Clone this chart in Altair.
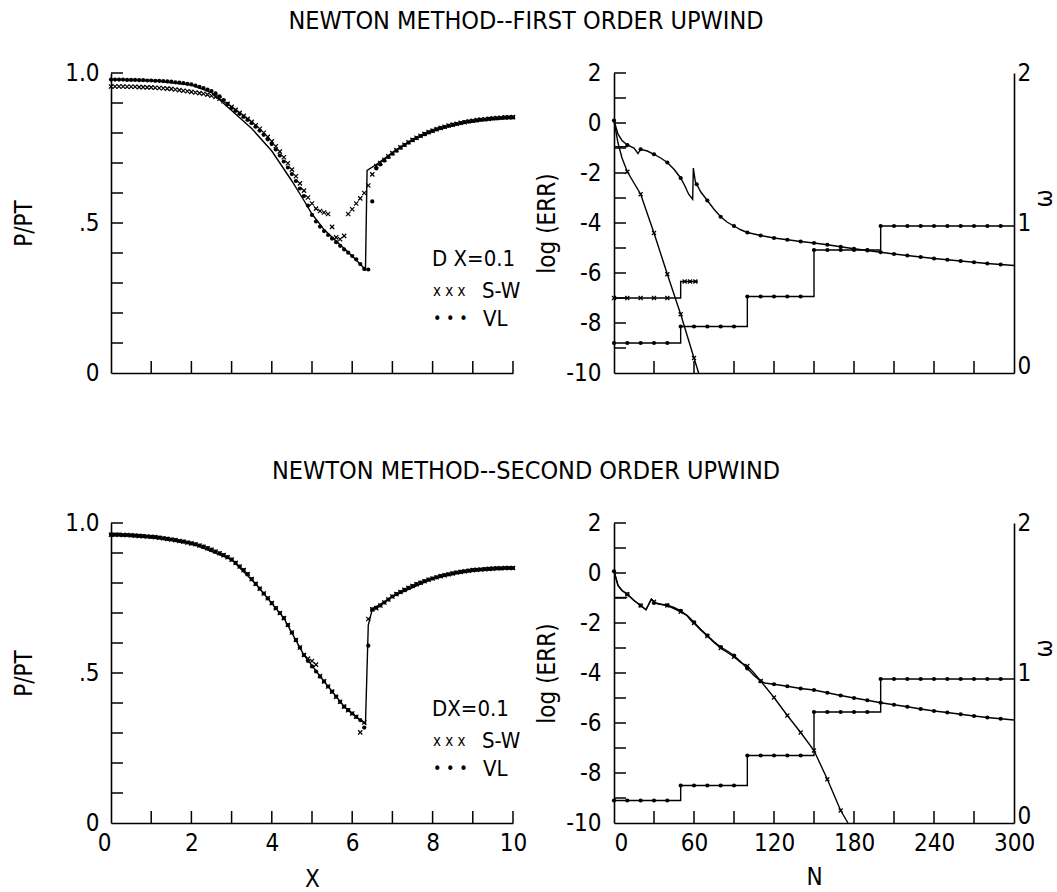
import altair as alt
import pandas as pd

FONT = "Liberation Sans Narrow, DejaVu Sans Condensed, Arial Narrow, sans-serif"
XSHAPE = "M-1,-1L1,1M1,-1L-1,1"

# ---------------- left panels : P/PT versus X (DX = 0.1) ----------------
X_GRID = [round(i * 0.1, 1) for i in range(101)]

TL_VL = [.978, .978, .978, .978, .977, .977, .977, .976, .976, .975, .975,
         .974, .974, .973, .972, .971, .969, .968, .966, .964, .962,
         .958, .954, .950, .945, .940, .932, .922, .910, .897, .884,
         .874, .864, .854, .844, .833, .821, .808, .794, .779, .763,
         .745, .725, .705, .685, .663, .640, .615, .590, .558, .527,
         .505, .488, .473, .460, .448, .436, .424, .412, .401, .390,
         .379, .363, .347, .345, .572, .682, .695, .708, .720, .731,
         .741, .751, .760, .768, .776, .783, .790, .796, .802, .807,
         .812, .816, .820, .824, .827, .830, .833, .836, .838, .840,
         .842, .844, .845, .847, .848, .849, .850, .851, .852, .852]
TL_SW = [.955, .955, .955, .955, .954, .954, .954, .953, .953, .952, .952,
         .951, .950, .949, .948, .947, .945, .943, .941, .939, .937,
         .935, .933, .931, .928, .924, .920, .914, .906, .897, .887,
         .877, .867, .857, .847, .837, .826, .814, .801, .787, .772,
         .756, .738, .719, .699, .678, .656, .632, .608, .585, .565,
         .548, .540, .535, .530, .487, .452, .446, .457, .530, .546,
         .565, .582, .600, .625, .662, .690, .700, .711, .722, .733,
         .743, .752, .761, .769, .777, .784, .791, .797, .803, .808,
         .813, .817, .821, .825, .828, .831, .834, .836, .839, .841,
         .843, .845, .846, .847, .849, .850, .851, .852, .852, .853]
TL_EX_X = [0, 1.0, 2.0, 2.5, 3.0, 3.5, 4.0, 4.5, 4.8, 5.0, 5.3, 5.6, 6.0, 6.33, 6.37,
           6.6, 7.0, 7.5, 8.0, 8.5, 9.0, 9.5, 10.0]
TL_EX_Y = [.978, .975, .960, .935, .875, .815, .740, .640, .575, .530, .478, .440, .390,
           .345, .675, .695, .735, .776, .806, .826, .840, .848, .852]

BL_VL = [.961, .961, .961, .960, .960, .959, .958, .957, .956, .955, .954,
         .953, .951, .949, .947, .945, .943, .940, .938, .935, .932,
         .929, .925, .921, .916, .911, .905, .899, .893, .886, .878,
         .867, .855, .843, .830, .813, .797, .781, .765, .749, .733,
         .716, .700, .683, .660, .635, .610, .585, .560, .540, .522,
         .505, .488, .472, .455, .438, .421, .404, .388, .376, .365,
         .354, .343, .318, .591, .712, .718, .725, .735, .745, .755,
         .763, .770, .777, .784, .790, .796, .801, .806, .811, .815,
         .819, .823, .826, .829, .832, .835, .837, .839, .841, .843,
         .844, .845, .846, .847, .848, .849, .849, .850, .850, .850]
BL_SW = [.961, .961, .961, .960, .960, .959, .958, .957, .956, .955, .954,
         .953, .951, .949, .947, .945, .943, .940, .938, .935, .932,
         .929, .925, .921, .916, .911, .905, .899, .893, .886, .878,
         .867, .855, .843, .830, .813, .797, .781, .765, .749, .733,
         .716, .700, .683, .660, .635, .610, .585, .560, .548, .540,
         .528, .490, .472, .455, .438, .421, .404, .388, .376, .365,
         .354, .302, .335, .680, .712, .716, .725, .735, .745, .755,
         .763, .770, .777, .784, .790, .796, .801, .806, .811, .815,
         .819, .823, .826, .829, .832, .835, .837, .839, .841, .843,
         .844, .845, .846, .847, .848, .849, .849, .850, .850, .850]
BL_EX_X = [0, 1, 2, 3, 3.6, 4.3, 4.8, 5.3, 5.8, 6.2, 6.33, 6.4, 6.5, 7, 8, 9, 10]
BL_EX_Y = [.961, .954, .932, .878, .797, .683, .560, .472, .388, .343, .330, .660, .712,
           .755, .815, .843, .850]

X_LABELS = [0, 2, 4, 6, 8, 10]
X_TICKS = [1, 2, 3, 4, 5, 6, 7, 8, 9, 10]
P_LABELS = [0, 0.5, 1.0]
P_TICKS = [0.1, 0.2, 0.3, 0.4, 0.5, 0.6, 0.7, 0.8, 0.9, 1.0]

# ---------------- right panels : log(ERR) and omega versus N ----------------
N_LABELS = [0, 60, 120, 180, 240, 300]
N_TICKS = [30, 60, 90, 120, 150, 180, 210, 240, 270]
E_LABELS = [-10, -8, -6, -4, -2, 0, 2]
E_TICKS = [-9, -8, -7, -6, -5, -4, -3, -2, -1, 0, 1, 2]
W_LABELS = [0, 1, 2]

TR_VL_N = [0, 3, 6, 10, 15, 18, 20, 25, 30, 35, 40, 45, 50, 53, 56, 59, 59.5, 61, 62, 65,
           70, 75, 80, 85, 90, 95, 100, 110, 120, 130, 140, 150, 160, 170, 180, 190, 200,
           210, 220, 230, 240, 250, 260, 270, 280, 290, 300]
TR_VL_E = [0.1, -0.45, -0.7, -0.88, -1.0, -1.22, -1.05, -1.12, -1.25, -1.4, -1.58, -1.85,
           -2.2, -2.5, -2.85, -3.05, -1.8, -2.35, -2.45, -2.75, -3.1, -3.45, -3.75, -3.97,
           -4.12, -4.27, -4.38, -4.5, -4.6, -4.67, -4.74, -4.8, -4.87, -4.95, -5.03, -5.1,
           -5.17, -5.24, -5.3, -5.36, -5.42, -5.47, -5.52, -5.57, -5.62, -5.66, -5.7]
TR_VL_DOT_N = [0, 10, 20, 30, 40, 50, 62, 70, 80, 90, 100, 110, 120, 130, 140, 150, 160,
               170, 180, 190, 200, 210, 220, 230, 240, 250, 260, 270, 280, 290]
TR_VL_DOT_E = [0.1, -0.88, -1.05, -1.25, -1.58, -2.2, -2.45, -3.1, -3.75, -4.12, -4.38,
               -4.5, -4.6, -4.67, -4.74, -4.8, -4.87, -4.95, -5.03, -5.1, -5.17, -5.24,
               -5.3, -5.36, -5.42, -5.47, -5.52, -5.57, -5.62, -5.66]
TR_SW_N = [0, 3, 6, 10, 20, 30, 40, 50, 60, 63.5]
TR_SW_E = [0.1, -0.8, -1.4, -1.95, -2.85, -4.4, -6.05, -7.65, -9.4, -10]
TR_SW_MK_N = [10, 20, 30, 40, 50, 60]
TR_SW_MK_E = [-1.95, -2.85, -4.4, -6.05, -7.65, -9.4]
TR_INIT_N = [0, 10]
TR_INIT_E = [-0.95, -0.95]
TR_W_SW_N = [0, 50, 63]
TR_W_SW = [0.5, 0.61, 0.61]
TR_W_SW_MK_N = [0, 10, 20, 30, 40, 53, 57, 61]
TR_W_SW_MK = [0.5, 0.5, 0.5, 0.5, 0.5, 0.61, 0.61, 0.61]
TR_W_VL_N = [0, 50, 100, 150, 200, 300]
TR_W_VL = [0.2, 0.31, 0.51, 0.82, 0.98, 0.98]
TR_W_VL_MK_N = [0, 10, 20, 30, 40, 50, 60, 70, 80, 90, 100, 110, 120, 130, 140, 150, 160,
                170, 180, 190, 200, 210, 220, 230, 240, 250, 260, 270, 280, 290]
TR_W_VL_MK = [0.2, 0.2, 0.2, 0.2, 0.2, 0.31, 0.31, 0.31, 0.31, 0.31, 0.51, 0.51, 0.51,
              0.51, 0.51, 0.82, 0.82, 0.82, 0.82, 0.82, 0.98, 0.98, 0.98, 0.98, 0.98,
              0.98, 0.98, 0.98, 0.98, 0.98]

BR_VL_N = [0, 3, 6, 10, 15, 20, 24, 28, 31, 35, 40, 45, 50, 55, 60, 65, 70, 75, 80, 85,
           90, 95, 100, 105, 110, 113, 120, 130, 140, 150, 160, 170, 180, 190, 200, 210,
           220, 230, 240, 250, 260, 270, 280, 290, 300]
BR_VL_E = [0.07, -0.5, -0.7, -0.85, -1.1, -1.3, -1.47, -1.05, -1.2, -1.25, -1.29, -1.38,
           -1.51, -1.7, -1.97, -2.25, -2.5, -2.75, -2.96, -3.12, -3.3, -3.55, -3.82, -4.1,
           -4.33, -4.4, -4.45, -4.53, -4.62, -4.68, -4.79, -4.9, -5.0, -5.09, -5.19, -5.27,
           -5.35, -5.44, -5.52, -5.58, -5.65, -5.72, -5.78, -5.83, -5.88]
BR_VL_DOT_N = [0, 10, 20, 30, 40, 50, 60, 70, 80, 90, 100, 110, 120, 130, 140, 150, 160,
               170, 180, 190, 200, 210, 220, 230, 240, 250, 260, 270, 280, 290]
BR_VL_DOT_E = [0.07, -0.85, -1.3, -1.2, -1.29, -1.51, -1.97, -2.5, -2.96, -3.3, -3.82,
               -4.33, -4.45, -4.53, -4.62, -4.68, -4.79, -4.9, -5.0, -5.09, -5.19, -5.27,
               -5.35, -5.44, -5.52, -5.58, -5.65, -5.72, -5.78, -5.83]
BR_SW_N = [0, 3, 6, 10, 15, 20, 24, 28, 31, 35, 40, 45, 50, 55, 58, 60, 65, 70, 75, 80,
           85, 90, 95, 100, 105, 110, 120, 130, 140, 150, 160, 170, 175.5]
BR_SW_E = [0.07, -0.5, -0.7, -0.85, -1.1, -1.3, -1.47, -1.05, -1.2, -1.25, -1.3, -1.42,
           -1.55, -1.72, -1.92, -2.0, -2.28, -2.52, -2.78, -3.0, -3.18, -3.35, -3.58,
           -3.72, -4.0, -4.32, -4.98, -5.7, -6.38, -7.1, -8.25, -9.5, -10]
BR_SW_MK_N = [10, 20, 30, 40, 50, 60, 70, 80, 90, 100, 110, 120, 130, 140, 150, 160, 170]
BR_SW_MK_E = [-0.85, -1.3, -1.15, -1.3, -1.55, -2.0, -2.52, -3.0, -3.35, -3.72, -4.32,
              -4.98, -5.7, -6.38, -7.1, -8.25, -9.5]
BR_INIT_N = [0, 10]
BR_INIT_E = [-0.98, -0.98]
BR_W_N = [0, 50, 100, 150, 200, 300]
BR_W = [0.15, 0.25, 0.45, 0.74, 0.96, 0.96]
BR_W_MK_N = [0, 10, 20, 30, 40, 50, 60, 70, 80, 90, 100, 110, 120, 130, 140, 150, 160,
             170, 180, 190, 200, 210, 220, 230, 240, 250, 260, 270, 280, 290]
BR_W_MK = [0.15, 0.15, 0.15, 0.15, 0.15, 0.25, 0.25, 0.25, 0.25, 0.25, 0.45, 0.45, 0.45,
           0.45, 0.45, 0.74, 0.74, 0.74, 0.74, 0.74, 0.96, 0.96, 0.96, 0.96, 0.96, 0.96,
           0.96, 0.96, 0.96, 0.96]

TITLE_1 = "NEWTON METHOD--FIRST ORDER UPWIND"
TITLE_2 = "NEWTON METHOD--SECOND ORDER UPWIND"

LW, RW, H = 402, 400, 300
TICK = 12


def df(xs, ys):
    return pd.DataFrame({"x": xs, "y": ys})


def enc(chart, xs, xax, ys, yax):
    return chart.encode(x=alt.X("x:Q", scale=xs, axis=xax), y=alt.Y("y:Q", scale=ys, axis=yax))


def tick_layers(xvals, yvals, xs, xax, ys, yax):
    xt = alt.Chart(pd.DataFrame({"x": xvals})).mark_rule(color="black", strokeWidth=1.5).encode(
        x=alt.X("x:Q", scale=xs, axis=xax), y=alt.value(H), y2=alt.value(H - TICK))
    yt = alt.Chart(pd.DataFrame({"y": yvals})).mark_rule(color="black", strokeWidth=1.5).encode(
        y=alt.Y("y:Q", scale=ys, axis=yax), x=alt.value(0), x2=alt.value(TICK))
    return [xt, yt]


def legend_layers(dx_text, rows):
    out = []
    for txt, (px, py, size) in zip([dx_text, "x x x", "S-W", "• • •", "VL"], rows):
        out.append(alt.Chart(pd.DataFrame({"t": [txt]})).mark_text(
            align="left", baseline="middle", font=FONT, fontSize=size, color="black").encode(
            x=alt.value(px), y=alt.value(py), text="t:N"))
    return out


def left_panel(vl, sw, ex_x, ex_y, dx_text, title, bottom):
    xs = alt.Scale(domain=[0, 10], nice=False, zero=False)
    ys = alt.Scale(domain=[0, 1], nice=False)
    if bottom:
        xax = alt.Axis(values=X_LABELS, title="X", format="d", labelPadding=8, titlePadding=12,
                       labelAlign={"condition": {"test": "datum.value == 0", "value": "right"},
                                   "value": "center"})
    else:
        xax = alt.Axis(values=X_LABELS, labels=False, title="")
    yax = alt.Axis(values=P_LABELS, title="P/PT", labelPadding=12, titlePadding=28,
                   labelExpr="datum.value == 1 ? '1.0' : (datum.value == 0.5 ? '.5' : '0')")
    layers = [
        enc(alt.Chart(df(ex_x, ex_y)).mark_line(color="black", strokeWidth=1.4), xs, xax, ys, yax),
        enc(alt.Chart(df(X_GRID, sw)).mark_point(shape=XSHAPE, filled=False, size=18,
                                                 strokeWidth=1.2, color="black", opacity=1),
            xs, xax, ys, yax),
        enc(alt.Chart(df(X_GRID, vl)).mark_point(shape="circle", filled=True, size=18,
                                                 color="black", opacity=1),
            xs, xax, ys, yax),
    ]
    layers += tick_layers(X_TICKS, P_TICKS, xs, xax, ys, yax)
    rows = [(321, 186, 22), (322, 218, 15), (371, 218, 22), (322, 246, 16), (372, 246, 22)]
    layers += legend_layers(dx_text, rows)
    return alt.layer(*layers).properties(
        width=LW, height=H,
        title=alt.TitleParams(text=title, anchor="middle", dx=214, offset=7, frame="group",
                              font=FONT, fontSize=25, fontWeight="normal", color="black",
                              baseline="alphabetic"))


def right_panel(vl_n, vl_e, dot_n, dot_e, sw_n, sw_e, mk_n, mk_e, init_n, init_e,
                w_lines, w_marks, bottom):
    xs = alt.Scale(domain=[0, 300], nice=False)
    es = alt.Scale(domain=[-10, 2], nice=False)
    ws = alt.Scale(domain=[0, 2], nice=False)
    if bottom:
        xax = alt.Axis(values=N_LABELS, title="N", format="d", labelPadding=8, titlePadding=10,
                       labelAlign={"condition": {"test": "datum.value == 0", "value": "left"},
                                   "value": "center"})
    else:
        xax = alt.Axis(values=N_LABELS, labels=False, title="")
    eax = alt.Axis(values=E_LABELS, title="log (ERR)", labelPadding=13, titlePadding=6,
                   labelExpr="'' + datum.value")
    wax = alt.Axis(values=W_LABELS, title="ω", orient="right", labelPadding=3, titlePadding=2,
                   titleAngle=270, titleBaseline="top", titleY=125,
                   labelBaseline={"condition": {"test": "datum.value == 0", "value": "alphabetic"},
                                  "value": "middle"},
                   labelExpr="'' + datum.value")
    err = [
        enc(alt.Chart(df(vl_n, vl_e)).mark_line(color="black", strokeWidth=1.4), xs, xax, es, eax),
        enc(alt.Chart(df(dot_n, dot_e)).mark_point(shape="circle", filled=True, size=18,
                                                   color="black", opacity=1), xs, xax, es, eax),
        enc(alt.Chart(df(sw_n, sw_e)).mark_line(color="black", strokeWidth=1.4), xs, xax, es, eax),
        enc(alt.Chart(df(mk_n, mk_e)).mark_point(shape=XSHAPE, filled=False, size=16,
                                                 strokeWidth=1.2, color="black", opacity=1),
            xs, xax, es, eax),
        enc(alt.Chart(df(init_n, init_e)).mark_line(color="black", strokeWidth=1.4), xs, xax, es, eax),
    ]
    err += tick_layers(N_TICKS, E_TICKS, xs, xax, es, eax)
    om = []
    for (ln, lw), (mn, mw, shape) in zip(w_lines, w_marks):
        om.append(enc(alt.Chart(df(ln, lw)).mark_line(color="black", strokeWidth=1.4,
                                                      interpolate="step-after"),
                      xs, xax, ws, wax))
        if shape == "x":
            mk = alt.Chart(df(mn, mw)).mark_point(shape=XSHAPE, filled=False, size=16,
                                                  strokeWidth=1.2, color="black", opacity=1)
        else:
            mk = alt.Chart(df(mn, mw)).mark_point(shape="circle", filled=True, size=18,
                                                  color="black", opacity=1)
        om.append(enc(mk, xs, xax, ws, wax))
    return alt.layer(alt.layer(*err), alt.layer(*om)).resolve_scale(y="independent").properties(
        width=RW, height=H)


tl = left_panel(TL_VL, TL_SW, TL_EX_X, TL_EX_Y, "D X=0.1", TITLE_1, False)
bl = left_panel(BL_VL, BL_SW, BL_EX_X, BL_EX_Y, "DX=0.1", TITLE_2, True)
tr = right_panel(TR_VL_N, TR_VL_E, TR_VL_DOT_N, TR_VL_DOT_E, TR_SW_N, TR_SW_E,
                 TR_SW_MK_N, TR_SW_MK_E, TR_INIT_N, TR_INIT_E,
                 [(TR_W_SW_N, TR_W_SW), (TR_W_VL_N, TR_W_VL)],
                 [(TR_W_SW_MK_N, TR_W_SW_MK, "x"), (TR_W_VL_MK_N, TR_W_VL_MK, "o")], False)
br = right_panel(BR_VL_N, BR_VL_E, BR_VL_DOT_N, BR_VL_DOT_E, BR_SW_N, BR_SW_E,
                 BR_SW_MK_N, BR_SW_MK_E, BR_INIT_N, BR_INIT_E,
                 [(BR_W_N, BR_W)], [(BR_W_MK_N, BR_W_MK, "o")], True)

chart = alt.concat(tl, tr, bl, br, columns=2, bounds="flush",
                   spacing={"row": 150, "column": 101}).properties(
    padding={"left": 12, "top": 9, "right": 0, "bottom": 0},
    background="white",
).configure_axis(
    domainColor="black", domainWidth=1.6, grid=False, ticks=False,
    labelFont=FONT, labelFontSize=24, labelColor="black",
    titleFont=FONT, titleFontSize=24, titleFontWeight="normal", titleColor="black",
).configure_view(strokeWidth=0)

chart.save("out.html", embed_options={"renderer": "svg", "actions": False})
